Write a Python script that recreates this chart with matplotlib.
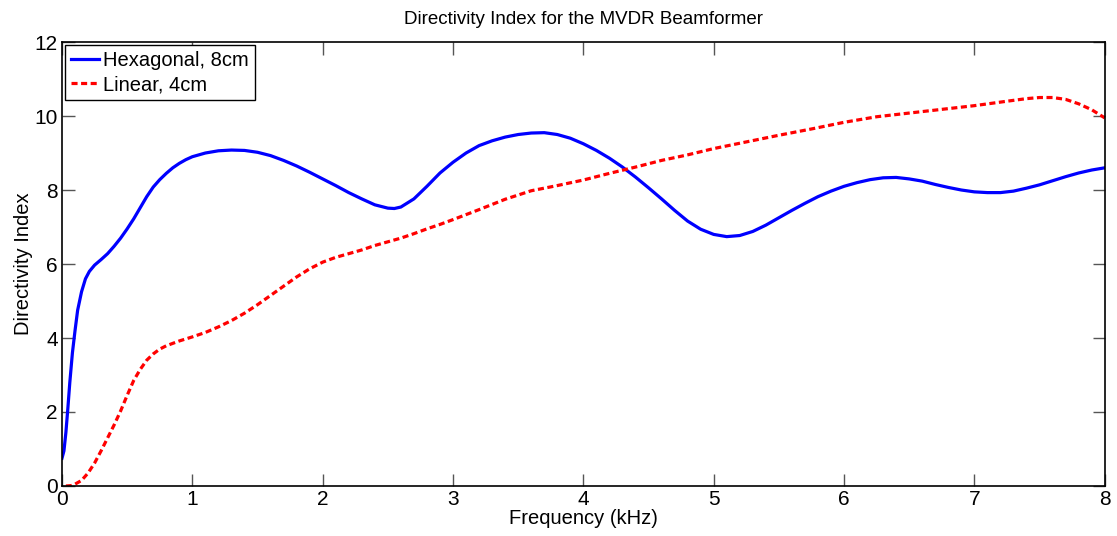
import matplotlib.pyplot as plt
import numpy as np

plt.rcParams['font.family'] = ['Liberation Sans', 'DejaVu Sans']

# Hexagonal array, 8cm
hex_f = [0.0, 0.015, 0.03, 0.045, 0.06, 0.08, 0.1, 0.12, 0.15, 0.18, 0.21, 0.25,
         0.3, 0.35, 0.4, 0.45, 0.5, 0.55, 0.6, 0.65, 0.7, 0.75, 0.8, 0.85, 0.9,
         0.95, 1.0, 1.1, 1.2, 1.3, 1.4, 1.5, 1.6, 1.7, 1.8, 1.9, 2.0, 2.1, 2.2,
         2.3, 2.4, 2.5, 2.55, 2.6, 2.7, 2.8, 2.9, 3.0, 3.1, 3.2, 3.3, 3.4, 3.5,
         3.6, 3.7, 3.8, 3.9, 4.0, 4.1, 4.2, 4.3, 4.4, 4.5, 4.6, 4.7, 4.8, 4.9,
         5.0, 5.1, 5.2, 5.3, 5.4, 5.5, 5.6, 5.7, 5.8, 5.9, 6.0, 6.1, 6.2, 6.3,
         6.4, 6.5, 6.6, 6.7, 6.8, 6.9, 7.0, 7.1, 7.2, 7.3, 7.4, 7.5, 7.6, 7.7,
         7.8, 7.9, 8.0]
hex_di = [0.75, 0.95, 1.45, 2.1, 2.8, 3.6, 4.2, 4.75, 5.25, 5.6, 5.8, 5.97,
          6.12, 6.28, 6.48, 6.7, 6.95, 7.22, 7.52, 7.82, 8.08, 8.28, 8.45, 8.6, 8.72,
          8.82, 8.9, 9.0, 9.06, 9.08, 9.07, 9.02, 8.93, 8.8, 8.65, 8.48, 8.3, 8.12, 7.93,
          7.76, 7.6, 7.51, 7.5, 7.54, 7.76, 8.1, 8.46, 8.75, 9.0, 9.2, 9.33, 9.43, 9.5,
          9.54, 9.55, 9.5, 9.4, 9.25, 9.07, 8.86, 8.62, 8.35, 8.06, 7.76, 7.45, 7.16, 6.94,
          6.8, 6.74, 6.77, 6.88, 7.05, 7.25, 7.45, 7.64, 7.82, 7.97, 8.1, 8.2, 8.28, 8.33,
          8.34, 8.3, 8.24, 8.15, 8.07, 8.0, 7.95, 7.93, 7.93, 7.97, 8.05, 8.14, 8.25, 8.36,
          8.46, 8.54, 8.6]

# Linear array, 4cm
lin_f = [0.03, 0.07, 0.1, 0.15, 0.2, 0.25, 0.3, 0.35, 0.4, 0.45, 0.5, 0.55, 0.6,
         0.65, 0.7, 0.75, 0.8, 0.9, 1.0, 1.1, 1.2, 1.3, 1.4, 1.5, 1.6, 1.7, 1.8,
         1.9, 2.0, 2.1, 2.2, 2.3, 2.4, 2.5, 2.6, 2.7, 2.8, 2.9, 3.0, 3.2, 3.4,
         3.6, 3.8, 4.0, 4.2, 4.4, 4.6, 4.8, 5.0, 5.25, 5.5, 5.75, 6.0, 6.25, 6.5,
         6.75, 7.0, 7.25, 7.4, 7.5, 7.6, 7.7, 7.8, 7.9, 8.0]
lin_di = [0.0, 0.01, 0.05, 0.15, 0.35, 0.62, 0.95, 1.3, 1.65, 2.03, 2.45, 2.85, 3.15,
          3.4, 3.57, 3.7, 3.79, 3.92, 4.03, 4.15, 4.3, 4.47, 4.67, 4.9, 5.15, 5.4, 5.65,
          5.87, 6.05, 6.18, 6.28, 6.38, 6.5, 6.6, 6.7, 6.82, 6.95, 7.07, 7.2, 7.47, 7.75,
          7.98, 8.12, 8.27, 8.45, 8.62, 8.8, 8.95, 9.12, 9.3, 9.48, 9.65, 9.83, 9.98, 10.08,
          10.18, 10.28, 10.4, 10.47, 10.5, 10.5, 10.45, 10.33, 10.17, 9.95]

fig = plt.figure(figsize=(11.17, 5.36), dpi=100)
ax = fig.add_axes([0.0555, 0.0933, 0.9335, 0.8283])

ax.plot(hex_f, hex_di, color='#0000ff', lw=2.3, label='Hexagonal, 8cm')
ax.plot(lin_f, lin_di, color='#ff0000', lw=2.3, linestyle=(0, (1.9, 1.1)),
        label='Linear, 4cm')

ax.set_xlim(0, 8)
ax.set_ylim(0, 12)
ax.set_xticks(range(0, 9))
ax.set_yticks(range(0, 13, 2))
ax.tick_params(direction='in', length=9, width=1, color='#555555',
               top=True, right=True, labelsize=15, pad=3)
for s in ax.spines.values():
    s.set_linewidth(1.2)

ax.set_title('Directivity Index for the MVDR Beamformer', fontsize=13.5, pad=13)
ax.set_xlabel('Frequency (kHz)', fontsize=14.5, labelpad=0)
ax.set_ylabel('Directivity Index', fontsize=14.5, labelpad=1)

leg = ax.legend(loc='upper left', fontsize=14.5, fancybox=False, framealpha=1,
                edgecolor='black', borderpad=0.3, labelspacing=0.25,
                handlelength=1.4, handletextpad=0.2, borderaxespad=0.15)
leg.get_frame().set_linewidth(1.0)

fig.savefig('out.png', dpi=100)
